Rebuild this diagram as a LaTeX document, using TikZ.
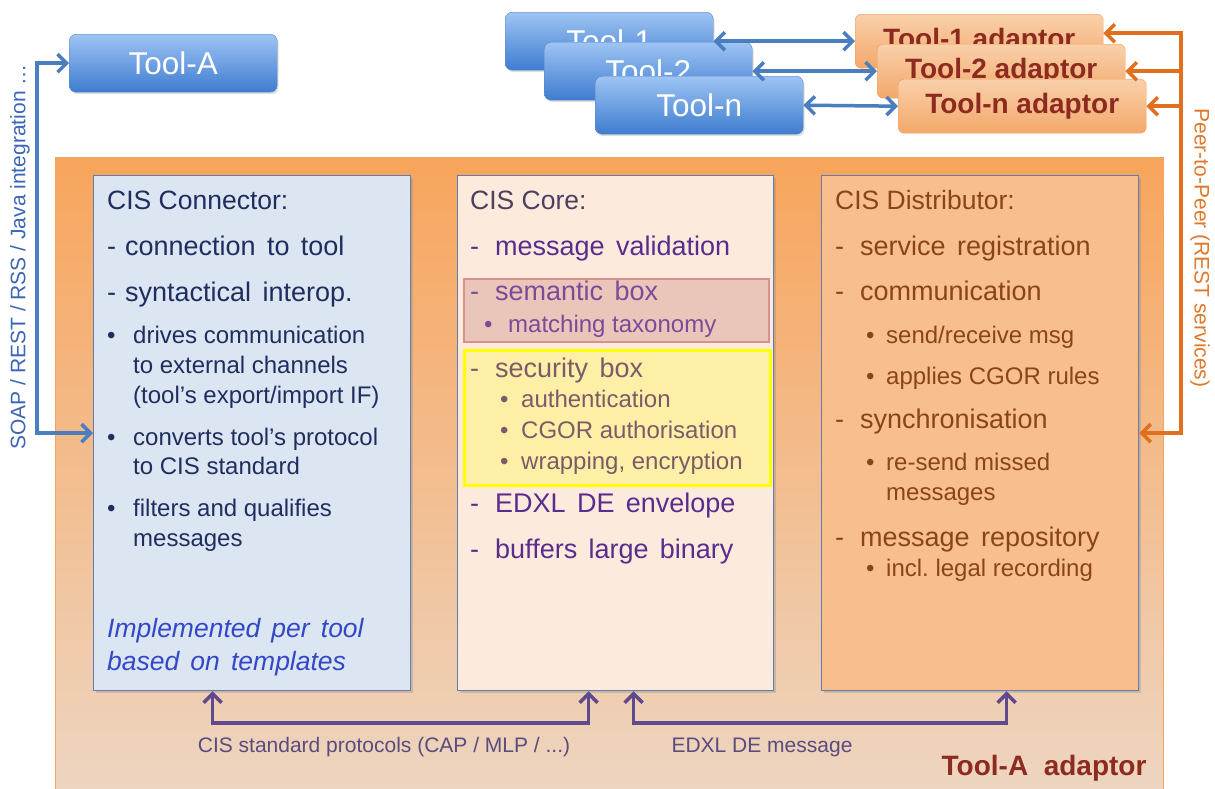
\documentclass[tikz,border=0pt]{standalone}
\usepackage{fontspec}
\setmainfont{Liberation Sans}
\usepackage{tikz}
\usetikzlibrary{arrows.meta,positioning,shadows}

\definecolor{toolTop}{HTML}{9EC4F4}
\definecolor{toolBot}{HTML}{3F7CD0}
\definecolor{toolLine}{HTML}{5A86C0}
\definecolor{adTop}{HTML}{F9D0AA}
\definecolor{adBot}{HTML}{F3A86A}
\definecolor{adLine}{HTML}{EE9E5A}
\definecolor{adText}{HTML}{8E2B20}
\definecolor{bigTop}{HTML}{F8A55C}
\definecolor{bigBot}{HTML}{EDD6C3}
\definecolor{bigLine}{HTML}{F2A35E}
\definecolor{boxLine}{HTML}{5F7DAF}
\definecolor{connFill}{HTML}{DCE6F2}
\definecolor{coreFill}{HTML}{FCEBDD}
\definecolor{distFill}{HTML}{F9BE8E}
\definecolor{semFill}{HTML}{EAC6BA}
\definecolor{semLine}{HTML}{D9908E}
\definecolor{secFill}{HTML}{FDF0A6}
\definecolor{secLine}{HTML}{FFFF00}
\definecolor{connText}{HTML}{1F2E5E}
\definecolor{implText}{HTML}{3348C8}
\definecolor{coreHead}{HTML}{4C3F60}
\definecolor{coreText}{HTML}{5B2C8E}
\definecolor{semText}{HTML}{7B4A99}
\definecolor{secText}{HTML}{7C5A6A}
\definecolor{distText}{HTML}{8A4516}
\definecolor{blueArrow}{HTML}{4A7EBF}
\definecolor{blueLabel}{HTML}{3B66B8}
\definecolor{orangeArrow}{HTML}{E26F1E}
\definecolor{orangeLabel}{HTML}{E0782A}
\definecolor{purpleArrow}{HTML}{5E4A8C}
\definecolor{labelText}{HTML}{5A4C7E}

\newcommand{\dashitem}[2]{\makebox[#1][l]{-}#2}
\newcommand{\bulitem}[2]{\makebox[#1][l]{\textbullet}#2}
\newcommand{\widesp}{\spaceskip 0.42em\relax}

\begin{document}
\begin{tikzpicture}[x=1pt,y=-1pt,>={Straight Barb[length=9pt,width=18pt]}]
	
	\tikzset{
		tool/.style={draw=toolLine, rounded corners=7pt, top color=toolTop, bottom color=toolBot,
			text=white, font=\fontsize{31.5}{34}\selectfont, anchor=north west,
			minimum width=208pt, minimum height=58pt,
			drop shadow={opacity=0.25, shadow xshift=1.5pt, shadow yshift=-2pt}},
		adaptor/.style={draw=adLine, rounded corners=6pt, top color=adTop, bottom color=adBot,
			text=adText, font=\fontsize{28}{30}\selectfont\bfseries, anchor=north west,
			minimum width=248pt, minimum height=54pt},
		bigbox/.style={draw=bigLine, line width=1pt, top color=bigTop, bottom color=bigBot, anchor=north west},
		cisbox/.style={draw=boxLine, line width=1.2pt, anchor=north west,
			minimum width=317pt, minimum height=515pt,
			drop shadow={opacity=0.3, shadow xshift=2pt, shadow yshift=-2pt}},
		headtxt/.style={anchor=west, inner sep=0pt, text height=18pt, text depth=0pt, font=\fontsize{26.5}{30}\selectfont},
		itemtxt/.style={headtxt, font=\fontsize{27}{30}\selectfont\widesp},
		subtxt/.style={anchor=west, inner sep=0pt, text height=17pt, text depth=0pt, font=\fontsize{24}{28}\selectfont},
		impltxt/.style={headtxt, text=implText, font=\fontsize{26.5}{30}\selectfont\itshape\widesp},
		toolline/.style={draw=blueArrow, line width=3.5pt, <->},
		ptwop/.style={draw=orangeArrow, line width=3.5pt},
		protoline/.style={draw=purpleArrow, line width=3.5pt, <->},
		sidelabel/.style={font=\fontsize{21}{24}\selectfont, inner sep=0pt}
	}
	
	\useasboundingbox (0,0) rectangle (1215,788);
	\fill[white] (0,0) rectangle (1215,788);
	
	% the adaptor of Tool-A
	\node[bigbox, minimum width=1108pt, minimum height=645pt] (adA) at (55,157) {};
	\node[font=\fontsize{28}{30}\selectfont\bfseries, text=adText, anchor=east] (adAlabel) at (1150,768) {Tool-A\ \ adaptor};
	
	% tools and their adaptors
	\node[tool] (tA) at (69,34) {Tool-A};
	\node[tool] (t1) at (505,12) {Tool-1};
	\node[tool] (t2) at (544,42) {Tool-2};
	\node[tool] (tn) at (595,76) {Tool-n};
	\node[adaptor] (ad1) at (855,14) {Tool-1 adaptor};
	\node[adaptor] (ad2) at (877,44) {Tool-2 adaptor};
	\node[adaptor] (adn) at (898,79) {Tool-n adaptor};
	
	\draw[toolline] (t1.east) -- (ad1.west);
	\draw[toolline] (t2.east) -- (ad2.west);
	\draw[toolline] (tn.east) -- (adn.west);
	
	% the three CIS parts
	\node[cisbox, fill=connFill] (conn) at (93,175) {};
	\node[cisbox, fill=coreFill, minimum width=316pt] (core) at (457,175) {};
	\node[cisbox, fill=distFill] (dist) at (821,175) {};
	\node[draw=semLine, line width=1.5pt, fill=semFill, anchor=north west, minimum width=305pt, minimum height=63pt] (sem) at (463,278) {};
	\node[draw=secLine, line width=2.5pt, fill=secFill, anchor=north west, minimum width=306pt, minimum height=135pt] (sec) at (463,349) {};
	
	% CIS Connector
	\node[headtxt, text=connText] (conn-h) at (107,200) {CIS Connector:};
	\foreach \y/\txt [count=\i] in {246/connection to tool, 292/syntactical interop.}
		\node[itemtxt, text=connText] (conn-d\i) at (107,\y) {\dashitem{18pt}{\txt}};
	\foreach \x/\y/\txt [count=\i] in {107/335/{\bulitem{26pt}{drives communication}}, 133/365/to external channels,
			133/395/{(tool’s export/import IF)}, 107/437/{\bulitem{26pt}{converts tool’s protocol}},
			133/466/to CIS standard, 107/508/{\bulitem{26pt}{filters and qualifies}}, 133/538/messages}
		\node[subtxt, text=connText] (conn-s\i) at (\x,\y) {\txt};
	\node[impltxt] (conn-i1) at (107,628) {Implemented per tool};
	\node[impltxt] (conn-i2) at (107,661) {based on templates};
	
	% CIS Core
	\node[headtxt, text=coreHead] (core-h) at (470,200) {CIS Core:};
	\foreach \y/\c/\txt [count=\i] in {246/coreText/message validation, 291/semText/semantic box,
			368/secText/security box, 503/coreText/EDXL DE envelope, 549/coreText/buffers large binary}
		\node[itemtxt, text=\c] (core-d\i) at (470,\y) {\dashitem{25pt}{\txt}};
	\node[subtxt, text=semText] (core-s1) at (484,324) {\bulitem{24pt}{matching taxonomy}};
	\foreach \y/\txt [count=\i] in {399/authentication, 430/CGOR authorisation, 461/{wrapping, encryption}}
		\node[subtxt, text=secText] (core-b\i) at (500,\y) {\bulitem{21pt}{\txt}};
	
	% CIS Distributor
	\node[headtxt, text=distText] (dist-h) at (835,200) {CIS Distributor:};
	\foreach \y/\txt [count=\i] in {246/service registration, 291/communication, 419/synchronisation, 537/message repository}
		\node[itemtxt, text=distText] (dist-d\i) at (835,\y) {\dashitem{25pt}{\txt}};
	\foreach \x/\y/\txt [count=\i] in {866/335/{\bulitem{20pt}{send/receive msg}}, 866/376/{\bulitem{20pt}{applies CGOR rules}},
			866/462/{\bulitem{20pt}{re-send missed}}, 886/492/messages, 866/568/{\bulitem{20pt}{incl.\ legal recording}}}
		\node[subtxt, text=distText] (dist-s\i) at (\x,\y) {\txt};
	
	% integration of Tool-A
	\draw[toolline] (tA.west) -- ++(-32,0) |- (conn.west);
	\node[sidelabel, text=blueLabel, rotate=90] (soap) at (20,257) {SOAP / REST / RSS / Java integration …};
	
	% peer-to-peer links
	\draw[ptwop, <->] (dist.east) -- ++(42,0) coordinate (ptrunk) |- ([yshift=8pt]ad1.east);
	\draw[ptwop, ->] (ptrunk |- ad2.east) -- (ad2.east);
	\draw[ptwop, ->] (ptrunk |- adn.east) -- (adn.east);
	\node[sidelabel, text=orangeLabel, rotate=-90] (p2p) at (1200,248) {Peer-to-Peer (REST services)};
	
	% internal protocols
	\draw[protoline] ([xshift=-39.5pt]conn.south) -- ++(0,32) -| ([xshift=-27pt]core.south);
	\draw[protoline] ([xshift=18pt]core.south) -- ++(0,32) -| ([xshift=26.5pt]dist.south);
	\node[sidelabel, text=labelText] (cisproto) at (384,747) {CIS standard protocols (CAP / MLP / ...)};
	\node[sidelabel, text=labelText] (edxlmsg) at (762,747) {EDXL DE message};
	
\end{tikzpicture}
\end{document}
